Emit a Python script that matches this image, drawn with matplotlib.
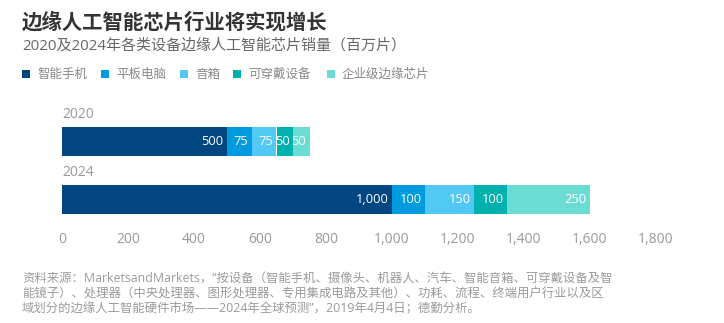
import matplotlib
matplotlib.use("Agg")
import matplotlib.pyplot as plt
from matplotlib.patches import Rectangle

plt.rcParams['font.family'] = ['Open Sans', 'Noto Sans CJK SC', 'DejaVu Sans']

# Data
years = ["2020", "2024"]
segments = ["智能手机", "平板电脑", "音箱", "可穿戴设备", "企业级边缘芯片"]
values = {
    "智能手机": [500, 1000],
    "平板电脑": [75, 100],
    "音箱": [75, 150],
    "可穿戴设备": [50, 100],
    "企业级边缘芯片": [50, 250],
}
colors = ["#004680", "#009ADE", "#52C9F4", "#00B1AD", "#6ADCD3"]
xticks = [0, 200, 400, 600, 800, 1000, 1200, 1400, 1600, 1800]

title = "边缘人工智能芯片行业将实现增长"
subtitle = "2020及2024年各类设备边缘人工智能芯片销量（百万片）"
source_lines = [
    "资料来源：MarketsandMarkets，“按设备（智能手机、摄像头、机器人、汽车、智能音箱、可穿戴设备及智",
    "能镜子）、处理器（中央处理器、图形处理器、专用集成电路及其他）、功耗、流程、终端用户行业以及区",
    "域划分的边缘人工智能硬件市场——2024年全球预测”，2019年4月4日；德勤分析。",
]

W, H = 724, 323
fig = plt.figure(figsize=(W / 100, H / 100), dpi=100)
fig.patch.set_facecolor("white")

def px(x, y):
    return x / W, 1 - y / H

cjk = ['Noto Sans CJK SC', 'DejaVu Sans']

fig.text(*px(22, 22), title, fontsize=14.7, fontweight="bold", color="#333333",
         family=cjk, va="center", ha="left")
fig.text(*px(22, 46), subtitle, fontsize=10.8, color="#666666",
         family=['Open Sans', 'Noto Sans CJK SC'], va="center", ha="left")

# Legend
leg_x = [22, 101, 180, 233, 327]
for lx, name, c in zip(leg_x, segments, colors):
    x0, y0 = px(lx, 78)
    fig.patches.append(Rectangle((x0, y0), 8 / W, 8 / H, transform=fig.transFigure,
                                 facecolor=c, edgecolor="none"))
    fig.text(*px(lx + 15, 74), name, fontsize=9, color="#888888", family=cjk,
             va="center", ha="left")

# Bars
x_left, x_right = 62, 656
top, bottom = 100, 228
ax = fig.add_axes([x_left / W, 1 - bottom / H, (x_right - x_left) / W, (bottom - top) / H])
ax.set_xlim(0, 1800)
ax.set_ylim(1.5, -0.707)

for i, yr in enumerate(years):
    left = 0
    for name, c in zip(segments, colors):
        v = values[name][i]
        ax.barh(i, v, left=left, height=0.5, color=c, edgecolor="none")
        ax.annotate(f"{v:,}", xy=(left + v, i), xytext=(-2.5, 0), textcoords="offset points",
                    ha="right", va="center", color="white", fontsize=9.3)
        left += v
    ax.text(0, i - 0.45, yr, ha="left", va="center", fontsize=10, color="#999999")

ax.set_xticks(xticks)
ax.set_xticklabels([f"{t:,}" for t in xticks])
ax.tick_params(axis="x", length=0, pad=3, labelsize=10, labelcolor="#999999")
ax.set_yticks([])
for s in ax.spines.values():
    s.set_visible(False)
ax.set_facecolor("none")

for k, line in enumerate(source_lines):
    fig.text(*px(22, 279 + 15 * k), line, fontsize=8.9, color="#9a9a9a",
             family=['Open Sans', 'Noto Sans CJK SC'], va="center", ha="left")

fig.savefig("out.png", dpi=100, facecolor="white")
